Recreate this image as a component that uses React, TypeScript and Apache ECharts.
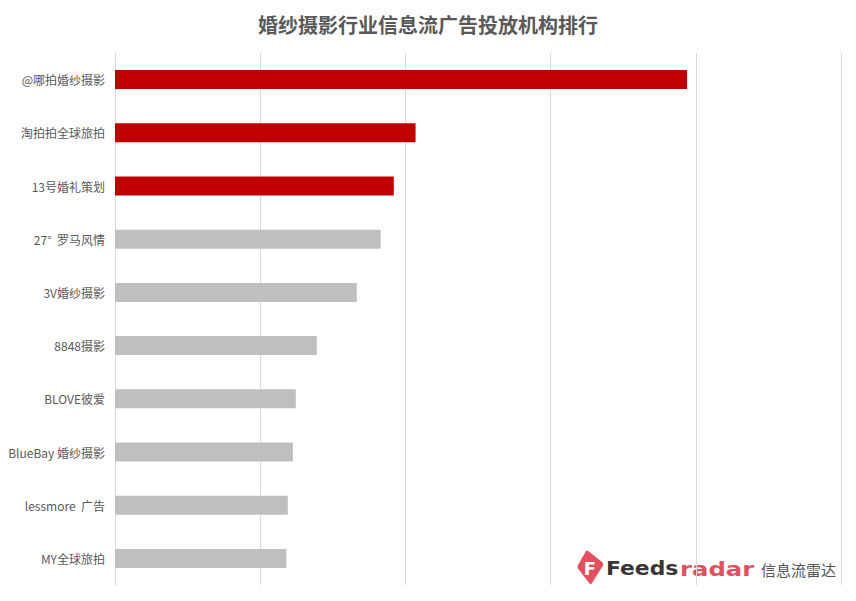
import React, { useEffect, useRef } from "react";
import * as echarts from "echarts";

const categories = [
  "@哪拍婚纱摄影",
  "淘拍拍全球旅拍",
  "13号婚礼策划",
  "27°  罗马风情",
  "3V婚纱摄影",
  "8848摄影",
  "BLOVE彼爱",
  "BlueBay 婚纱摄影",
  "lessmore  广告",
  "MY全球旅拍",
];
const values = [3940, 2070, 1920, 1830, 1665, 1390, 1245, 1225, 1190, 1180];
const highlightCount = 3;
const titleText = "婚纱摄影行业信息流广告投放机构排行";

const iconPath =
  "M9 1 Q10 0 11.5 1.2 L25 12 Q27 13.5 26 15.5 L15 33 Q14 35 12.5 33.5 L1 18.5 Q0 17 0.8 15.5 Z";

let registered = false;
function ensureShape() {
  if (registered) return;
  echarts.graphic.registerShape("logo", (echarts.graphic as any).extendPath(iconPath, {}));
  registered = true;
}

export default function App() {
  const ref = useRef<HTMLDivElement>(null);
  useEffect(() => {
    if (!ref.current) return;
    ensureShape();
    const chart = echarts.init(ref.current, undefined, { renderer: "svg" });
    const font = "'Noto Sans CJK SC', 'Noto Sans', sans-serif";
    chart.setOption({
      animation: false,
      backgroundColor: "#ffffff",
      title: {
        text: titleText,
        left: "center",
        top: 9,
        textStyle: { fontSize: 20, fontWeight: "bold", color: "#595959", fontFamily: font },
      },
      grid: { left: 115, right: 15, top: 53, bottom: 16, containLabel: false },
      xAxis: {
        type: "value",
        min: 0,
        max: 5000,
        interval: 1000,
        axisLabel: { show: false },
        axisLine: { show: false },
        axisTick: { show: false },
        splitLine: { show: true, lineStyle: { color: "#d9d9d9", width: 1 } },
      },
      yAxis: {
        type: "category",
        inverse: true,
        data: categories,
        axisLine: { show: true, lineStyle: { color: "#d9d9d9" } },
        axisTick: { show: false },
        axisLabel: { color: "#595959", fontSize: 12, margin: 10, fontFamily: font },
      },
      series: [
        {
          type: "bar",
          barWidth: 19,
          data: values.map((v, i) => ({
            value: v,
            itemStyle: { color: i < highlightCount ? "#c00000" : "#bfbfbf" },
          })),
        },
      ],
      graphic: [
        {
          type: "logo",
          x: 577,
          y: 550,
          style: { fill: "#e0505f" },
        },
        {
          type: "text",
          x: 590,
          y: 568,
          style: {
            text: "F",
            fill: "#ffffff",
            fontSize: 18,
            fontWeight: "bold",
            fontFamily: "'DejaVu Sans', sans-serif",
            textAlign: "center",
            textVerticalAlign: "middle",
          },
        },
        {
          type: "text",
          x: 606,
          y: 569,
          scaleX: 1.15,
          style: {
            text: "Feeds",
            fill: "#3b3536",
            fontSize: 19,
            fontWeight: "bold",
            fontFamily: "'DejaVu Sans', sans-serif",
            textAlign: "left",
            textVerticalAlign: "middle",
          },
        },
        {
          type: "text",
          x: 680,
          y: 569,
          scaleX: 1.28,
          style: {
            text: "radar",
            fill: "#e0505f",
            fontSize: 19,
            fontWeight: "bold",
            fontFamily: "'DejaVu Sans', sans-serif",
            textAlign: "left",
            textVerticalAlign: "middle",
          },
        },
        {
          type: "text",
          x: 761,
          y: 569,
          style: {
            text: "信息流雷达",
            fill: "#555555",
            fontSize: 15,
            fontFamily: font,
            textAlign: "left",
            textVerticalAlign: "middle",
          },
        },
      ],
    });
    return () => chart.dispose();
  }, []);
  return <div ref={ref} style={{ width: 856, height: 601, position: "absolute", left: 0, top: 0 }} />;
}
